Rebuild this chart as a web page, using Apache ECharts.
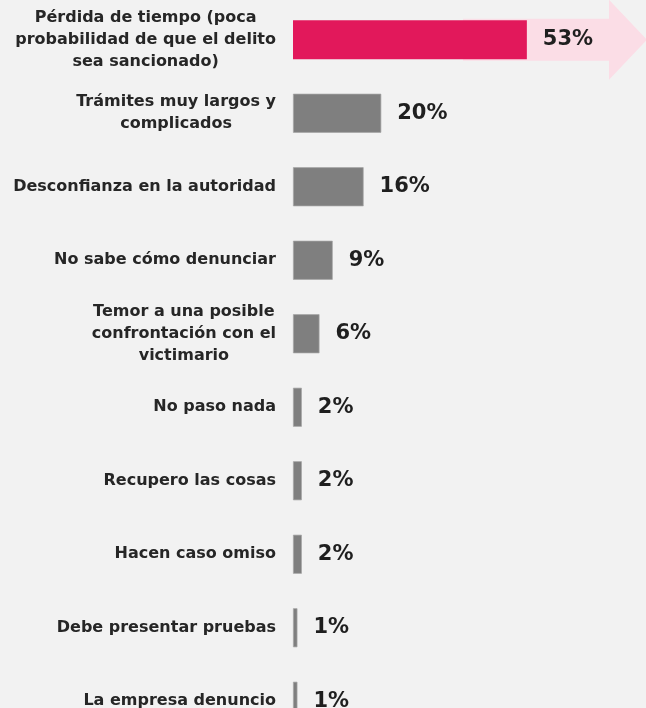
<!DOCTYPE html>
<html>
<head>
<meta charset="utf-8">
<style>
html,body{margin:0;padding:0;background:#F2F2F2;}
#chart{width:646px;height:708px;}
</style>
<script src="https://cdn.jsdelivr.net/npm/echarts@6/dist/echarts.min.js"></script>
</head>
<body>
<div id="chart"></div>
<script>
const categories = [
  "Pérdida de tiempo (poca\nprobabilidad de que el delito\nsea sancionado)",
  "Trámites muy largos y\ncomplicados",
  "Desconfianza en la autoridad",
  "No sabe cómo denunciar",
  "Temor a una posible\nconfrontación con el\nvictimario",
  "No paso nada",
  "Recupero las cosas",
  "Hacen caso omiso",
  "Debe presentar pruebas",
  "La empresa denuncio"
];
const values = [53, 20, 16, 9, 6, 2, 2, 2, 1, 1];
const highlightIndex = 0;

const chart = echarts.init(document.getElementById('chart'), null, {renderer: 'canvas'});
const FONT = '"DejaVu Sans", sans-serif';

const option = {
  backgroundColor: '#F2F2F2',
  animation: false,
  grid: {left: 293, right: 0, top: 3, height: 735, containLabel: false, outerBoundsMode: 'none'},
  xAxis: {type: 'value', min: 0, max: 80, show: false},
  yAxis: {
    type: 'category', data: categories, inverse: true,
    axisLine: {show: false}, axisTick: {show: false},
    axisLabel: {
      margin: 17,
      formatter: function (v) {
        return v.split('\n').map(function (l) { return '{c|' + l + '}'; }).join('\n');
      },
      rich: {
        c: {align: 'center', fontFamily: FONT, fontWeight: 'bold', fontSize: 16, color: '#262626', lineHeight: 22}
      }
    }
  },
  series: [{
    type: 'bar', z: 3,
    barWidth: 39,
    data: values.map(function (v, i) {
      return {
        value: v,
        itemStyle: i === highlightIndex
          ? {color: '#E2185B', borderWidth: 0}
          : {color: '#7F7F7F', borderColor: '#A6A6A6', borderWidth: 0.7}
      };
    }),
    label: {
      show: true, position: 'right', distance: 16,
      formatter: '{c}%',
      fontFamily: FONT, fontWeight: 'bold', fontSize: 21, color: '#1F1F1F'
    }
  }]
};
chart.setOption(option);

// decorative arrow behind the highlighted bar
const cy = chart.convertToPixel({yAxisIndex: 0}, categories[highlightIndex]);
chart.setOption({
  graphic: [{
    type: 'polygon', z: 1, silent: true,
    shape: {points: [
      [463, cy - 21], [609, cy - 21], [609, cy - 40], [647, cy],
      [609, cy + 40], [609, cy + 21], [463, cy + 21]
    ]},
    style: {fill: '#FBDDE6'}
  }]
});
</script>
</body>
</html>
